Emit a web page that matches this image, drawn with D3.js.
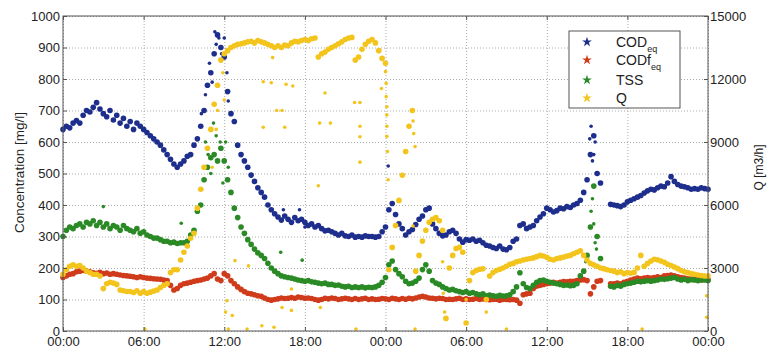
<!DOCTYPE html>
<html>
<head>
<meta charset="utf-8">
<script src="https://cdn.jsdelivr.net/npm/d3@7"></script>
<style>
  body { margin: 0; background: #fff; }
  svg text { font-family: 'Liberation Sans', Arial, sans-serif; fill: #222; }
  .grid line { stroke: #aaa; stroke-dasharray: 1,2; }
  .grid path { display: none; }
  .axis path { display: none; }
  .axis line { stroke: #555; }
</style>
</head>
<body>
<div id="chart"></div>
<script>
// readings every 15 minutes over two days (hour 0..48)
const stepHours = 0.25;
const hourTicks = [0, 6, 12, 18, 24, 30, 36, 42, 48];
const tickLabels = ['00:00', '06:00', '12:00', '18:00', '00:00', '06:00', '12:00', '18:00', '00:00'];
const concTicks = [0, 100, 200, 300, 400, 500, 600, 700, 800, 900, 1000];
const flowTicks = [0, 3000, 6000, 9000, 12000, 15000];

// COD eq [mg/l], one row per hour
const codEq = [
  640, 650, 645, 660,  668, 660, 685, 700,  695, 710, 725, 705,  690, 680, 700, 670,
  685, 660, 675, 650,  665, 640, 660, 650,  640, 630, 620, 610,  600, 590, 575, 560,
  545, 530, 520, 530,  540, 555, 560, 590,  610, 650, 700, 780,  820, 880, 940, 900,
  870, 760, 690, 665,  590, 560, 540, 520,  495, 475, 455, 440,  425, 400, 385, 372,
  362, 352, 365, 355,  345, 360, 350, 355,  345, 335, 340, 330,  335, 325, 318, 320,
  315, 310, 305, 310,  302, 300, 305, 298,  300, 298, 302, 300,  300, 298, 300, 315,
  330, 385, 405, 370,  340, 325, 305, 315,  322, 338, 355, 365,  385, 390, 340, 325,
  310, 302, 305, 315,  320, 310, 292, 282,  290, 288, 292, 285,  288, 280, 272, 270,
  265, 262, 270, 260,  258, 265, 285, 292,  335, 340, 325, 330,  335, 350, 362, 372,
  390, 385, 378, 382,  390, 388, 395, 392,  400, 405, 415, 440,  480, 560, 620, 500,
  470, null, null, 402,  400, 398, 395, 400,  410, 415, 420, 425,  430, 438, 445, 450,
  448, 455, 460, 458,  470, 490, 475, 465,  460, 458, 455, 450,  452, 450, 455, 452,
  450
];

// CODf eq [mg/l]
const codfEq = [
  170, 175, 180, 182,  188, 190, 192, 190,  188, 185, 183, 186,  182, 184, 180, 182,
  180, 178, 176, 175,  174, 172, 170, 172,  170, 168, 167, 166,  165, 164, 162, 160,
  145, 130, 135, 145,  150, 152, 155, 158,  160, 162, 165, 168,  175, 182, 165, 160,
  182, 175, 160, 150,  140, 132, 125, 120,  118, 115, 112, 110,  105, 100, 98, 100,
  102, 105, 103, 104,  106, 104, 108, 106,  104, 105, 103, 100,  98, 100, 104, 102,
  105, 103, 100, 102,  104, 102, 100, 103,  100, 102, 104, 100,  102, 100, 101, 103,
  102, 100, 104, 102,  100, 103, 101, 104,  102, 105, 108, 110,  108, 105, 104, 102,
  104, 103, 100, 101,  100, 102, 104, 100,  102, 100, 101, 103,  100, 102, 100, 99,
  100, 101, 98, 100,  100, 99, 100, 98,  88, 115, 118, 120,  135, 142, 145, 148,
  150, 152, 155, 152,  155, 157, 156, 158,  158, 160, 162, 163,  160, 118, 140, 158,
  160, null, null, 150,  150, 152, 150, 155,  158, 162, 165, 168,  166, 168, 170, 168,
  170, 172, 170, 175,  176, 178, 175, 172,  170, 168, 166, 165,  165, 164, 162, 165,
  163
];

// TSS [mg/l]
const tss = [
  300, 320, 330, 325,  335, 340, 330, 345,  340, 350, 335, 345,  330, 340, 325, 335,
  330, 320, 335, 325,  320, 315, 325, 310,  315, 305, 300, 295,  295, 290, 285, 285,
  280, 282, 278, 280,  280, 285, 305, 320,  380, 400, 480, 520,  550, 560, 540, 580,
  540, 480, 440, 390,  360, 330, 310, 290,  275, 260, 248, 240,  230, 215, 200, 190,
  182, 175, 172, 170,  168, 165, 162, 160,  158, 160, 156, 155,  152, 150, 152, 148,
  148, 145, 146, 142,  140, 142, 138, 140,  138, 140, 137, 139,  138, 140, 145, 155,
  170, 210, 222, 195,  182, 172, 158, 150,  152, 158, 168, 195,  210, 190, 160, 152,
  148, 140, 135, 130,  132, 128, 125, 122,  125, 120, 122, 118,  115, 118, 112, 114,
  112, 110, 113, 111,  112, 115, 125, 140,  185, 150, 138, 135,  145, 155, 160, 162,
  158, 155, 152, 150,  148, 145, 146, 144,  145, 150, 175, 190,  240, 330, 460, 300,
  230, null, null, 142,  140, 145, 142, 148,  150, 152, 155, 158,  156, 158, 160, 158,
  160, 162, 165, 164,  166, 168, 170, 165,  162, 164, 160, 163,  162, 160, 163, 162,
  160
];

// Q [m3/h]
const flowQ = [
  2700, 2920, 3080, 3150,  3080, 3120, 3000, 2850,  2780, 2700, 2700, 2620,  2020, 2250, 2320, 2280,
  2220, 1950, 1920, 1880,  1880, 1830, 1920, 1800,  1880, 1800, 1850, 1900,  1950, 2070, 2180, 2250,
  2780, 2920, 2920, 3380,  3750, 4050, 4420, 4650,  5850, 6750, 7800, 8700,  9600, 10800, 11700, 12900,
  13200, 13350, 13500, 13580,  13650, 13680, 13720, 13770,  13800, 13720, 13830, 13770,  13720, 13650, 13580, 13500,
  13580, 13500, 13620, 13580,  13720, 13800, 13770, 13830,  13880, 13830, 13920, 13950,  13050, 13200, 13280, 13420,
  13500, 13580, 13680, 13770,  13880, 13950, 13980, 12900,  13050, 13420, 13650, 13800,  13880, 13720, 13350, 12980,
  12750, 2920, 3980, 5020,  6220, 7420, 8550, 9750,  10500, 2850, 3600, 4280,  4800, 5180, 5320, 5400,
  5250, 4800, 600, 3000,  3600, 3930, 3980, 3750,  380, 2400, 2780, 2880,  2940, 2960, 1500, 2620,
  2780, 2880, 2940, 3000,  3080, 3180, 3220, 3300,  3330, 3380, 3420, 3450,  3480, 3540, 3600, 3570,
  3510, 3420, 3380, 3450,  3480, 3520, 3570, 3600,  3680, 3750, 3820, 3600,  3380, 3220, 3150, 3080,
  3000, 2970, 2920, 2880,  2850, 2780, 2820, 2730,  2780, 2750, 2790, 3000,  3600, 3080, 3220, 3330,
  3420, 3390, 3330, 3270,  3180, 3120, 3050, 2970,  2880, 2820, 2780, 2730,  2700, 2670, 2640, 2620,
  2620
];

// scattered single readings [hour, value]
const codOutliers = [
  [10.3, 690], [10.6, 750], [10.9, 850], [11.1, 790], [11.3, 950], [11.4, 910], [11.6, 930],
  [11.8, 880], [12.0, 930], [12.2, 820], [12.3, 730], [16.4, 385], [17.6, 385], [18.0, 330],
  [24.2, 524], [39.2, 610], [39.3, 650], [39.4, 540], [39.5, 560], [39.6, 600]
];
const tssOutliers = [
  [3.0, 395], [8.8, 342], [10.3, 450], [10.6, 600], [10.8, 560], [11.0, 500], [11.2, 660],
  [11.4, 620], [11.7, 600], [11.9, 470], [12.1, 600], [12.3, 520], [16.2, 250], [17.8, 225],
  [38.9, 220], [39.3, 380], [39.4, 420], [39.5, 340], [39.6, 280], [39.7, 260]
];
const flowOutliers = [
  [14.9, 11870], [15.5, 11820], [16.6, 11750], [17.1, 11670], [15.6, 13020], [15.9, 10500],
  [16.3, 10500], [14.9, 9700], [16.5, 9700], [19.5, 11330], [19.1, 9900], [19.9, 9900],
  [21.7, 10880], [22.1, 10880], [22.1, 9750], [22.1, 9250], [22.1, 8040], [19.0, 6920],
  [23.7, 11550], [24.0, 12350], [24.05, 11790], [24.05, 11160], [24.1, 10680], [24.1, 10290],
  [24.1, 9750], [24.1, 9270], [24.15, 8550], [24.2, 7200], [26.05, 10000], [26.1, 9400],
  [26.2, 8780], [26.05, 5000], [12.8, 3350], [13.8, 3100], [17.0, 2000], [16.3, 1120],
  [17.0, 980], [19.15, 1120], [14.8, 250], [15.7, 180], [12.6, 740], [12.3, 90], [13.7, 90],
  [21.8, 90], [6.1, 90], [12.2, 1440], [12.1, 900], [26.2, 90], [33.0, 90], [43.1, 90],
  [47.9, 1680], [47.9, 650], [11.1, 7800], [11.4, 9600], [11.5, 10500], [11.9, 12300],
  [12.0, 11000], [28.25, 3300], [28.3, 1800], [28.4, 900], [30.0, 1500], [31.5, 900]
];

const legendItems = [
  { name: 'COD', sub: 'eq', color: '#1e2e8c' },
  { name: 'CODf', sub: 'eq', color: '#cf3b1b' },
  { name: 'TSS', sub: '', color: '#2a8a25' },
  { name: 'Q', sub: '', color: '#f3c41c' }
];

const width = 770;
const height = 352;
const margin = { top: 16, right: 62, bottom: 21, left: 63 };
const innerWidth = width - margin.left - margin.right;
const innerHeight = height - margin.top - margin.bottom;

const svg = d3.select('#chart')
  .append('svg')
  .attr('width', width)
  .attr('height', height);

const x = d3.scaleLinear().domain([0, 48]).range([margin.left, margin.left + innerWidth]);
const y = d3.scaleLinear().domain([0, 1000]).range([margin.top + innerHeight, margin.top]);
const yQ = d3.scaleLinear().domain([0, 15000]).range([margin.top + innerHeight, margin.top]);

// dotted grid
svg.append('g')
  .attr('class', 'grid')
  .attr('transform', `translate(0,${margin.top + innerHeight})`)
  .call(d3.axisBottom(x).tickValues(hourTicks).tickSize(-innerHeight).tickFormat(''));
svg.append('g')
  .attr('class', 'grid')
  .attr('transform', `translate(${margin.left},0)`)
  .call(d3.axisLeft(y).tickValues(concTicks).tickSize(-innerWidth).tickFormat(''));

function drawSeries(values, scale, color) {
  const pts = values
    .map((v, i) => [i * stepHours, v])
    .filter(d => d[1] !== null);
  svg.append('g').selectAll('circle')
    .data(pts)
    .enter()
    .append('circle')
    .attr('cx', d => x(d[0]))
    .attr('cy', d => scale(d[1]))
    .attr('r', 2.8)
    .attr('fill', color);
}

function drawPoints(points, scale, color) {
  svg.append('g').selectAll('circle')
    .data(points)
    .enter()
    .append('circle')
    .attr('cx', d => x(d[0]))
    .attr('cy', d => scale(d[1]))
    .attr('r', 1.8)
    .attr('fill', color);
}

drawSeries(codEq, y, legendItems[0].color);
drawPoints(codOutliers, y, legendItems[0].color);
drawSeries(codfEq, y, legendItems[1].color);
drawSeries(tss, y, legendItems[2].color);
drawPoints(tssOutliers, y, legendItems[2].color);
drawSeries(flowQ, yQ, legendItems[3].color);
drawPoints(flowOutliers, yQ, legendItems[3].color);

// axes, ticks pointing inward
svg.append('g')
  .attr('class', 'axis')
  .attr('transform', `translate(0,${margin.top + innerHeight})`)
  .call(d3.axisBottom(x).tickValues(hourTicks).tickSizeInner(-4).tickSizeOuter(0)
    .tickPadding(6).tickFormat((d, i) => tickLabels[i]))
  .selectAll('text').style('font-size', '13px');

svg.append('g')
  .attr('class', 'axis')
  .attr('transform', `translate(0,${margin.top})`)
  .call(d3.axisTop(x).tickValues(hourTicks).tickSizeInner(-4).tickSizeOuter(0).tickFormat(''));

svg.append('g')
  .attr('class', 'axis')
  .attr('transform', `translate(${margin.left},0)`)
  .call(d3.axisLeft(y).tickValues(concTicks).tickSizeInner(-4).tickSizeOuter(0)
    .tickPadding(3).tickFormat(d3.format('d')))
  .selectAll('text').style('font-size', '13px');

svg.append('g')
  .attr('class', 'axis')
  .attr('transform', `translate(${margin.left + innerWidth},0)`)
  .call(d3.axisRight(yQ).tickValues(flowTicks).tickSizeInner(-4).tickSizeOuter(0)
    .tickPadding(2).tickFormat(d3.format('d')))
  .selectAll('text').style('font-size', '13px');

svg.append('rect')
  .attr('x', margin.left)
  .attr('y', margin.top)
  .attr('width', innerWidth)
  .attr('height', innerHeight)
  .attr('fill', 'none')
  .attr('stroke', '#555');

// axis titles
svg.append('text')
  .attr('transform', `translate(24,${margin.top + innerHeight / 2 - 1}) rotate(-90)`)
  .attr('text-anchor', 'middle')
  .style('font-size', '13.5px')
  .text('Concentration [mg/l]');

svg.append('text')
  .attr('transform', `translate(763,${margin.top + innerHeight / 2 - 6}) rotate(-90)`)
  .attr('text-anchor', 'middle')
  .style('font-size', '12px')
  .text('Q [m3/h]');

// legend
const legend = svg.append('g').attr('transform', 'translate(569,31)');
legend.append('rect')
  .attr('width', 111)
  .attr('height', 77)
  .attr('fill', '#fff')
  .attr('stroke', '#555');

const rowY = [11, 29, 49, 67];
legend.selectAll(null)
  .data(legendItems)
  .enter()
  .append('g')
  .attr('transform', (d, i) => `translate(0,${rowY[i]})`)
  .each(function(d) {
    const g = d3.select(this);
    g.append('path')
      .attr('transform', 'translate(18,0)')
      .attr('d', d3.symbol().type(d3.symbolStar).size(30)())
      .attr('fill', d.color);
    const t = g.append('text')
      .attr('x', 47)
      .attr('y', 5)
      .style('font-size', '14px')
      .text(d.name);
    if (d.sub) {
      t.append('tspan')
        .attr('dy', 5)
        .style('font-size', '9px')
        .text(d.sub);
    }
  });
</script>
</body>
</html>
